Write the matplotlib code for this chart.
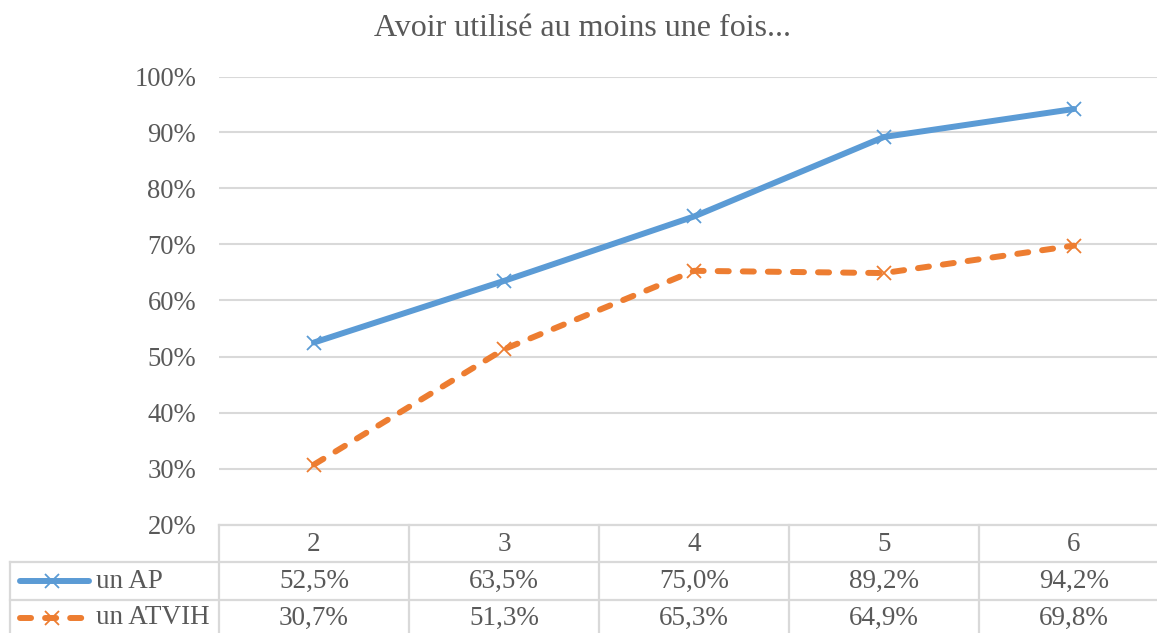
import matplotlib
matplotlib.use("Agg")
import matplotlib.pyplot as plt
import matplotlib.transforms as mtransforms

categories = ["2", "3", "4", "5", "6"]
series_names = ["un AP", "un ATVIH"]
ap_values = [52.5, 63.5, 75.0, 89.2, 94.2]
atvih_values = [30.7, 51.3, 65.3, 64.9, 69.8]
yticks = [20, 30, 40, 50, 60, 70, 80, 90, 100]
title = "Avoir utilisé au moins une fois..."

BLUE = "#5B9BD5"
ORANGE = "#ED7D31"
GRID = "#D9D9D9"
TXT = "#595959"
FONT = "Liberation Serif"
plt.rcParams["font.family"] = [FONT, "DejaVu Serif"]

W, H = 1157, 633
fig = plt.figure(figsize=(W / 100, H / 100), dpi=100)
left_px, right_px, top_px, bot_px = 219, 1169, 76.5, 524.5
ax = fig.add_axes([left_px / W, 1 - bot_px / H, (right_px - left_px) / W, (bot_px - top_px) / H])
ax_h = bot_px - top_px

LW = 4.3
DASH = (1.85, 2.35)
MS = 9.5
MEW = 1.3

x = list(range(len(categories)))
ax.plot(x, ap_values, color=BLUE, lw=LW, marker="x", ms=MS, mew=MEW, mec=BLUE,
        solid_capstyle="round", zorder=3)
l2, = ax.plot(x, atvih_values, color=ORANGE, lw=LW, marker="x", ms=MS, mew=MEW, mec=ORANGE,
              dash_capstyle="round", zorder=3)
l2.set_dashes(DASH)

ax.set_xlim(-0.5, len(categories) - 0.5)
ax.set_ylim(20, 100)
ax.set_yticks(yticks)
ax.set_yticklabels([f"{v}%" for v in yticks], fontsize=19.2, color=TXT)
ax.tick_params(axis="y", length=0, pad=16.5)
ax.set_xticks([])
ax.grid(axis="y", color=GRID, lw=1.5)
ax.set_axisbelow(True)
for s in ax.spines.values():
    s.set_visible(False)

fig.text(582 / W, 1 - 36 / H, title, ha="center", va="baseline", fontsize=23, color=TXT)

# data table
tr = mtransforms.blended_transform_factory(ax.transData, ax.transAxes)
px2x = lambda p: -0.5 + (p - left_px) / 190.0
px2y = lambda p: (bot_px - p) / ax_h
n = len(categories)
xl = px2x(10)
rows_px = [524.5, 562, 600, 640]
lkw = dict(color=GRID, lw=1.6, transform=tr, clip_on=False, zorder=1)
ax.plot([-0.5, n - 0.5], [0, 0], **lkw)
for r in rows_px[1:]:
    ax.plot([xl, n - 0.5], [px2y(r), px2y(r)], **lkw)
ax.plot([xl, xl], [px2y(rows_px[1]), px2y(rows_px[3])], **lkw)
for i in range(n + 1):
    xv = i - 0.5
    ax.plot([xv, xv], [0, px2y(rows_px[3])], **lkw)

fs = 19.5
hy = px2y((rows_px[0] + rows_px[1]) / 2 + 1)
for i, c in enumerate(categories):
    ax.text(i, hy, c, transform=tr, ha="center", va="center", fontsize=fs, color=TXT)

for k, (name, vals, col) in enumerate([(series_names[0], ap_values, BLUE),
                                       (series_names[1], atvih_values, ORANGE)]):
    ry = px2y((rows_px[k + 1] + rows_px[k + 2]) / 2 + (0 if k == 0 else -2))
    for i, v in enumerate(vals):
        ax.text(i, ry, f"{v:.1f}%".replace(".", ","), transform=tr, ha="center", va="center",
                fontsize=fs, color=TXT)
    ln, = ax.plot([px2x(20), px2x(89)], [ry, ry], color=col, lw=LW, transform=tr, clip_on=False,
                  solid_capstyle="round", dash_capstyle="round")
    if k == 1:
        ln.set_dashes(DASH)
    ax.plot([px2x(52)], [ry], marker="x", ms=MS, mew=MEW, color=col, transform=tr, clip_on=False)
    ax.text(px2x(96), ry, name, transform=tr, ha="left", va="center", fontsize=fs, color=TXT)

fig.savefig("out.png", dpi=100)
